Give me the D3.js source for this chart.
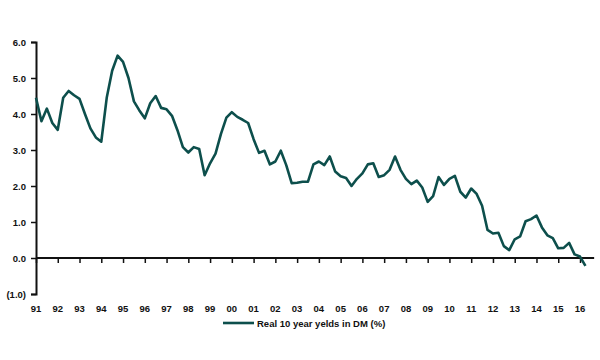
<!DOCTYPE html>
<html>
<head>
<meta charset="utf-8">
<script src="https://cdn.jsdelivr.net/npm/d3@7"></script>
<style>
  html, body { margin: 0; padding: 0; background: #ffffff; }
  svg { display: block; }
  text { font-family: "Liberation Sans", Arial, sans-serif; fill: #111; }
</style>
</head>
<body>
<svg id="chart" width="600" height="360"></svg>
<script>
// Quarterly real 10-year yields in DM (%), 1991 Q1 onwards
const startYear = 1991;
const values = [
  4.45, 3.80, 4.15, 3.75, 3.56, 4.45, 4.64, 4.52, 4.42, 4.00,
  3.60, 3.35, 3.23, 4.45, 5.20, 5.62, 5.45, 5.00, 4.35, 4.10,
  3.88, 4.30, 4.50, 4.17, 4.13, 3.95, 3.55, 3.08, 2.93, 3.08,
  3.03, 2.30, 2.63, 2.90, 3.45, 3.90, 4.05, 3.92, 3.84, 3.75,
  3.30, 2.92, 2.98, 2.60, 2.68, 2.98, 2.58, 2.08, 2.09, 2.12,
  2.12, 2.60, 2.68, 2.58, 2.82, 2.40, 2.27, 2.22, 2.00, 2.20,
  2.35, 2.60, 2.63, 2.25, 2.30, 2.45, 2.82, 2.45, 2.20, 2.05,
  2.15, 1.96, 1.56, 1.72, 2.25, 2.03, 2.20, 2.28, 1.84, 1.68,
  1.93, 1.78, 1.45, 0.78, 0.68, 0.70, 0.33, 0.22, 0.52, 0.60,
  1.02, 1.08, 1.18, 0.85, 0.63, 0.55, 0.27, 0.28, 0.42, 0.10,
  0.04, -0.22
];
const yearTicks = d3.range(1991, 2017);
const yTicks = [-1, 0, 1, 2, 3, 4, 5, 6];
const seriesName = "Real 10 year yelds in DM (%)";

const data = values.map((v, i) => ({ t: startYear + i / 4, v }));

const svg = d3.select("#chart");
const x = d3.scaleLinear().domain([1991, 2016]).range([36, 580]);
const y = d3.scaleLinear().domain([-1, 6]).range([294, 42]);
const xEnd = x(2016.65);

// Y axis
const yAxis = d3.axisLeft(y).tickValues(yTicks).tickSize(5).tickPadding(5)
  .tickFormat(d => d < 0 ? "(" + d3.format(".1f")(-d) + ")" : d3.format(".1f")(d));
const gy = svg.append("g").attr("transform", `translate(${x(1991)},0)`).call(yAxis);
gy.select(".domain").attr("stroke", "#111").attr("stroke-width", 2);
gy.selectAll(".tick line").attr("stroke", "#111").attr("stroke-width", 1.5);
gy.selectAll(".tick text").attr("font-size", 9.5).attr("font-weight", "bold").style("fill", "#111");

// X axis at zero line (ticks only)
const xAxis = d3.axisBottom(x).tickValues(yearTicks).tickSize(5).tickFormat("");
const gx = svg.append("g").attr("transform", `translate(0,${y(0)})`).call(xAxis);
gx.select(".domain").attr("d", `M${x(1991)},0H${xEnd}`).attr("stroke", "#111").attr("stroke-width", 2);
gx.selectAll(".tick line").attr("stroke", "#111").attr("stroke-width", 1.5);

// X labels at the bottom
svg.append("g").selectAll("text").data(yearTicks).join("text")
  .attr("x", d => x(d))
  .attr("y", 312)
  .attr("text-anchor", "middle")
  .attr("font-size", 9.5)
  .attr("font-weight", "bold")
  .text(d => String(d % 100).padStart(2, "0"));

// Line
const line = d3.line().x(d => x(d.t)).y(d => y(d.v)).curve(d3.curveLinear);
svg.append("path").datum(data)
  .attr("d", line)
  .attr("fill", "none")
  .attr("stroke", "#0d4f4c")
  .attr("stroke-width", 2.6)
  .attr("stroke-linejoin", "round");

// Legend
const lg = svg.append("g").attr("transform", "translate(223,323)");
lg.append("line").attr("x1", 0).attr("x2", 31).attr("y1", 0).attr("y2", 0)
  .attr("stroke", "#0d4f4c").attr("stroke-width", 2.6);
lg.append("text").attr("x", 34).attr("y", 3.5).attr("font-size", 9.5)
  .attr("font-weight", "bold").text(seriesName);
</script>
</body>
</html>
